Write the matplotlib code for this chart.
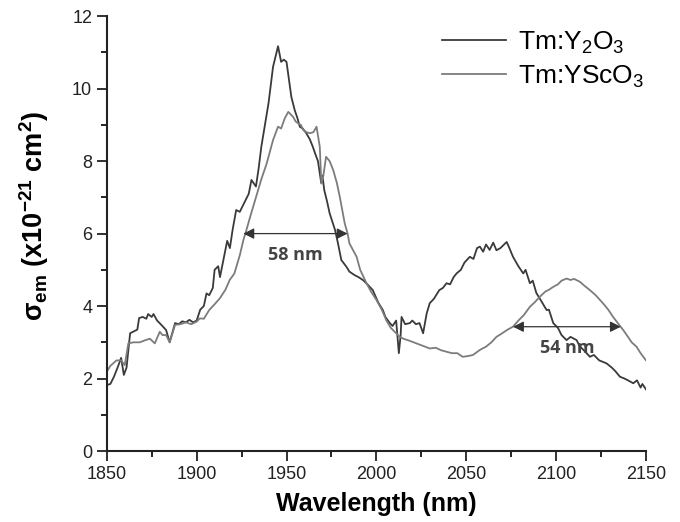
import matplotlib
matplotlib.use("Agg")
import matplotlib.pyplot as plt

# Tm:Y2O3 emission cross-section (x1e-21 cm^2)
wl_y2o3 = [1850, 1852, 1854, 1856, 1858, 1859.5, 1861, 1863, 1865, 1867, 1868, 1870, 1872, 1873,
           1875, 1876, 1878, 1880, 1883, 1885, 1888, 1890, 1892, 1894, 1896, 1898, 1900, 1902,
           1904, 1905.5, 1907, 1909, 1910, 1912, 1913, 1915, 1917, 1918.5, 1920, 1922, 1924,
           1927, 1929, 1930.5, 1933, 1934.5, 1936, 1938, 1940, 1942.5, 1944, 1945.3, 1947,
           1948.5, 1950, 1951.5, 1952.7, 1954.6, 1956, 1957.4, 1959, 1961, 1963, 1964.6, 1966,
           1967.5, 1968.5, 1969.3, 1970, 1971, 1972.5, 1974, 1977, 1978.6, 1980.5, 1983.4, 1985,
           1988, 1990, 1992.5, 1995, 1998, 2001, 2003.6, 2005, 2007.5, 2009, 2011, 2012.5,
           2013.5, 2014, 2016, 2018.6, 2020, 2022, 2024, 2026, 2028, 2029.7, 2032, 2035, 2037,
           2039, 2041, 2043, 2044.6, 2047, 2049, 2052, 2054, 2056, 2057.6, 2059.4, 2061, 2063,
           2065, 2066.8, 2069, 2072.5, 2074, 2076, 2079, 2081.7, 2083, 2085.4, 2087, 2089, 2091,
           2094.7, 2096, 2098.4, 2101, 2103, 2105.8, 2108, 2111.4, 2113, 2116, 2118.8, 2121,
           2124, 2128, 2131, 2133, 2135.5, 2138, 2140, 2142.9, 2145, 2147, 2148, 2150]
sig_y2o3 = [1.82, 1.85, 2.05, 2.3, 2.57, 2.1, 2.3, 3.25, 3.3, 3.35, 3.67, 3.7, 3.65, 3.78,
            3.7, 3.78, 3.6, 3.5, 3.34, 3.0, 3.53, 3.5, 3.58, 3.55, 3.62, 3.55, 3.6, 3.9,
            4.0, 4.35, 4.3, 4.5, 5.0, 5.1, 4.8, 5.3, 5.8, 5.6, 6.1, 6.65, 6.6,
            6.9, 7.1, 7.48, 7.3, 7.8, 8.4, 9.0, 9.6, 10.6, 10.9, 11.17, 10.74,
            10.8, 10.74, 10.2, 9.77, 9.4, 9.2, 8.95, 8.9, 8.77, 8.6, 8.4, 8.2,
            8.0, 7.67, 7.4, 7.6, 7.2, 6.9, 6.56, 6.1, 5.74, 5.27, 5.08, 4.95,
            4.85, 4.8, 4.72, 4.6, 4.44, 4.1, 3.89, 3.7, 3.53, 3.45, 3.6, 2.7,
            3.2, 3.7, 3.5, 3.53, 3.6, 3.5, 3.53, 3.25, 3.8, 4.08, 4.2, 4.44, 4.5,
            4.63, 4.6, 4.8, 4.9, 5.0, 5.2, 5.36, 5.3, 5.6, 5.64, 5.5, 5.7, 5.55,
            5.75, 5.54, 5.6, 5.77, 5.6, 5.36, 5.1, 4.9, 5.0, 4.63, 4.7, 4.36, 4.2,
            3.89, 3.9, 3.53, 3.4, 3.2, 3.06, 3.15, 3.06, 2.9, 2.75, 2.6, 2.65,
            2.5, 2.42, 2.3, 2.2, 2.05, 2.0, 1.95, 1.87, 1.95, 1.75, 1.85, 1.7]

# Tm:YScO3
wl_ysco3 = [1850, 1852, 1855.4, 1858, 1860, 1862, 1865, 1868.4, 1871, 1874, 1876.7, 1879.5,
            1881, 1883, 1885, 1888, 1891, 1894, 1897, 1900, 1901.7, 1904, 1907, 1910, 1913,
            1916, 1918.4, 1921, 1924, 1926, 1927.7, 1930, 1933, 1936, 1939, 1942.5, 1945.3,
            1947, 1949, 1951, 1953.7, 1955, 1956.5, 1958, 1959.3, 1961, 1963, 1965, 1966.7,
            1968.5, 1969.4, 1970.5, 1972, 1974, 1976, 1978, 1979.7, 1982.4, 1984, 1985, 1989,
            1991, 1994.5, 1997, 2000, 2003, 2005.6, 2008, 2011, 2013, 2015, 2018, 2022.3, 2026,
            2029.7, 2033, 2036, 2039, 2042, 2045, 2048, 2051, 2053.7, 2057.6, 2061, 2064,
            2066.8, 2070, 2073, 2076, 2079, 2082, 2085.4, 2088, 2091, 2094, 2096, 2098.4, 2101,
            2103, 2105.8, 2108, 2110, 2113.2, 2116, 2118.8, 2122, 2126.2, 2129, 2131.7, 2134,
            2137.3, 2140, 2142, 2144.7, 2147, 2150]
sig_ysco3 = [2.19, 2.35, 2.5, 2.5, 2.37, 2.97, 3.0, 3.0, 3.05, 3.1, 2.97, 3.29,
             3.2, 3.2, 3.0, 3.48, 3.5, 3.55, 3.5, 3.57, 3.66, 3.65, 3.89, 4.05, 4.22,
             4.45, 4.72, 4.9, 5.4, 5.82, 6.1, 6.5, 7.0, 7.5, 7.94, 8.58, 8.95,
             8.9, 9.18, 9.36, 9.22, 9.1, 9.04, 9.0, 8.86, 8.8, 8.77, 8.8, 8.95,
             8.4, 7.38, 7.6, 8.12, 8.0, 7.75, 7.4, 7.0, 6.28, 6.0, 5.73, 5.36,
             5.0, 4.63, 4.4, 4.17, 3.9, 3.6, 3.4, 3.25, 3.15, 3.1, 3.05, 2.97, 2.9,
             2.83, 2.85, 2.78, 2.74, 2.7, 2.7, 2.6, 2.62, 2.65, 2.79, 2.88, 3.0,
             3.15, 3.25, 3.35, 3.43, 3.6, 3.75, 3.98, 4.1, 4.26, 4.4, 4.45, 4.53, 4.6,
             4.7, 4.76, 4.72, 4.75, 4.67, 4.55, 4.44, 4.3, 4.07, 3.9, 3.7, 3.55,
             3.34, 3.15, 3.0, 2.88, 2.7, 2.5]

# FWHM markers: (start, end, height, label)
fwhm_58 = (1926, 1984, 6.0, "58 nm")
fwhm_54 = (2076, 2136, 3.43, "54 nm")

plt.rcParams['font.family'] = ['Liberation Sans', 'DejaVu Sans']
plt.rcParams['mathtext.default'] = 'regular'

fig = plt.figure(figsize=(6.8, 5.22), dpi=100)
ax = fig.add_axes([0.157, 0.136, 0.793, 0.833])

ax.plot(wl_y2o3, sig_y2o3, color='#3a3a3a', lw=1.3, label='Tm:Y$_2$O$_3$')
ax.plot(wl_ysco3, sig_ysco3, color='#7c7c7c', lw=1.3, label='Tm:YScO$_3$')

for x0, x1, h, txt in [fwhm_58, fwhm_54]:
    ax.annotate('', xy=(x0, h), xytext=(x1, h),
                arrowprops=dict(arrowstyle='<|-|>', color='#333333', lw=0.9,
                                mutation_scale=16, shrinkA=0, shrinkB=0))
    ax.text((x0 + x1) / 2, h - 0.35, txt, ha='center', va='top', fontsize=13,
            fontweight='bold', color='#444444', family=['Open Sans', 'DejaVu Sans'])

ax.set_xlim(1850, 2150)
ax.set_ylim(0, 12)
ax.set_xticks(range(1850, 2151, 50))
ax.set_xticks(range(1875, 2150, 50), minor=True)
ax.set_yticks(range(0, 13, 2))
ax.set_yticks(range(1, 12, 2), minor=True)
ax.tick_params(which='major', direction='out', length=7, width=1.3, labelsize=13, colors='#222222')
ax.tick_params(which='minor', direction='out', length=4, width=1.2)
for s in ['top', 'right']:
    ax.spines[s].set_visible(False)
for s in ['left', 'bottom']:
    ax.spines[s].set_linewidth(1.5)
    ax.spines[s].set_color('#222222')

ax.set_xlabel('Wavelength (nm)', fontsize=18, fontweight='bold', labelpad=7)
ax.set_ylabel('σ$_{em}$ (x10$^{-21}$ cm$^{2}$)', fontsize=19.5, fontweight='bold', labelpad=9)
ax.yaxis.set_label_coords(-0.103, 0.54)

ax.legend(loc='upper right', frameon=False, fontsize=19, handlelength=2.4,
          handletextpad=0.45, borderaxespad=0.1, labelspacing=0.3,
          bbox_to_anchor=(1.02, 1.0))

fig.savefig('out.png', dpi=100)
